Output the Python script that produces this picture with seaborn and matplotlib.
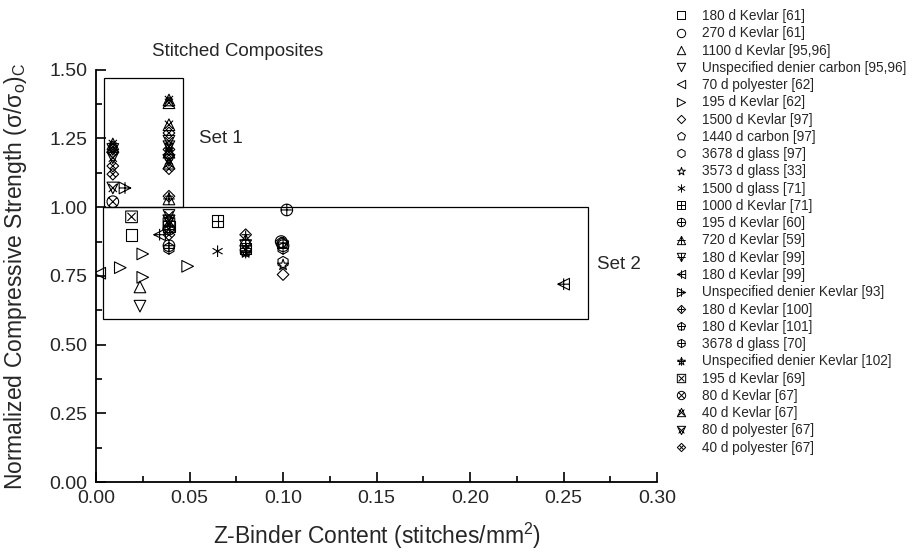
#importing libraries
import numpy as np
import pandas as pd
import matplotlib
matplotlib.use("Agg")
import matplotlib.pyplot as plt
import seaborn as sns
from matplotlib.markers import MarkerStyle
from matplotlib.path import Path
from matplotlib.patches import Rectangle
from matplotlib.lines import Line2D

sns.set_style("ticks")
plt.rcParams['font.family'] = ['Liberation Sans', 'DejaVu Sans']

# series names (legend order)
labels = ["180 d Kevlar [61]", "270 d Kevlar [61]", "1100 d Kevlar [95,96]",
          "Unspecified denier carbon [95,96]", "70 d polyester [62]", "195 d Kevlar [62]",
          "1500 d Kevlar [97]", "1440 d carbon [97]", "3678 d glass [97]",
          "3573 d glass [33]", "1500 d glass [71]", "1000 d Kevlar [71]",
          "195 d Kevlar [60]", "720 d Kevlar [59]", "180 d Kevlar [99]",
          "180 d Kevlar [99] ", "Unspecified denier Kevlar [93]", "180 d Kevlar [100]",
          "180 d Kevlar [101]", "3678 d glass [70]", "Unspecified denier Kevlar [102]",
          "195 d Kevlar [69]", "80 d Kevlar [67]", "40 d Kevlar [67]",
          "80 d polyester [67]", "40 d polyester [67]"]

# z-binder content (stitches/mm2) for each series
x_vals = [
    [0.019],
    [0.099, 0.100],
    [0.0235],
    [0.0235],
    [0.002],
    [0.013, 0.025, 0.025, 0.049],
    [0.100],
    [0.099],
    [0.100],
    [0.100],
    [0.065],
    [0.065, 0.080, 0.039],
    [0.102, 0.039],
    [0.080, 0.039],
    [0.080, 0.039],
    [0.250, 0.034],
    [0.0155],
    [0.080, 0.039],
    [0.100, 0.080],
    [0.039, 0.100],
    [0.080],
    [0.019, 0.039],
    [0.009, 0.039],
    [0.009, 0.009, 0.039, 0.039, 0.039, 0.039, 0.039],
    [0.009, 0.009, 0.009, 0.039, 0.039, 0.039, 0.039, 0.039],
    [0.009, 0.009, 0.009, 0.039, 0.039, 0.039, 0.039, 0.039, 0.039],
]

# normalized compressive strength for each series
y_vals = [
    [0.90],
    [0.875, 0.86],
    [0.71],
    [0.64],
    [0.76],
    [0.78, 0.83, 0.745, 0.785],
    [0.755],
    [0.87],
    [0.80],
    [0.79],
    [0.84],
    [0.95, 0.85, 0.93],
    [0.99, 0.86],
    [0.88, 1.03],
    [0.86, 0.95],
    [0.72, 0.90],
    [1.07],
    [0.90, 1.04],
    [0.87, 0.84],
    [0.85, 0.85],
    [0.835],
    [0.965, 0.94],
    [1.02, 0.92],
    [1.23, 1.22, 1.39, 1.38, 1.30, 1.20, 1.16],
    [1.21, 1.18, 1.07, 1.22, 1.17, 1.24, 0.97, 0.95],
    [1.20, 1.15, 1.12, 1.27, 1.19, 1.14, 1.21, 0.92, 0.90],
]


def base(m):
    ms = MarkerStyle(m)
    return ms.get_path().transformed(ms.get_transform())


plus = Path([[-0.5, 0], [0.5, 0], [0, -0.5], [0, 0.5]],
            [Path.MOVETO, Path.LINETO, Path.MOVETO, Path.LINETO])
cross = Path([[-0.35, -0.35], [0.35, 0.35], [-0.35, 0.35], [0.35, -0.35]],
             [Path.MOVETO, Path.LINETO, Path.MOVETO, Path.LINETO])
ang = np.deg2rad([90, 30, 150])
aster = Path([[f * 0.5 * np.cos(a), f * 0.5 * np.sin(a)] for a in ang for f in (-1, 1)],
             [Path.MOVETO, Path.LINETO] * 3)


def combo(m, extra):
    return Path.make_compound_path(base(m), extra)


markers = [base('s'), base('o'), base('^'), base('v'), base('<'), base('>'),
           base('D'), base('p'), base('h'), base('*'), aster,
           combo('s', plus), combo('o', plus), combo('^', plus), combo('v', plus),
           combo('<', plus), combo('>', plus), combo('D', plus), combo('p', plus),
           combo('h', plus), combo('*', plus), combo('s', cross), combo('o', cross),
           combo('^', cross), combo('v', cross), combo('D', cross)]

fig = plt.figure(figsize=(9.23, 5.58), dpi=100)
ax = fig.add_axes([0.104, 0.136, 0.608, 0.739])

handles = []
for name, xs, ys, mk in zip(labels, x_vals, y_vals, markers):
    df = pd.DataFrame({"x": xs, "y": ys})
    sns.scatterplot(data=df, x="x", y="y", marker=mk, s=70, color="k",
                    facecolor="none", edgecolor="k", linewidth=0.8, ax=ax, legend=False)
    handles.append(Line2D([], [], ls="", marker=mk, markersize=6, mfc="none",
                          mec="k", mew=0.7, label=name.strip()))

# set boxes
ax.add_patch(Rectangle((0.0043, 1.00), 0.0422, 0.469, fill=False, ec="k", lw=0.9))
ax.add_patch(Rectangle((0.0037, 0.595), 0.2593, 0.405, fill=False, ec="k", lw=0.9))
ax.text(0.055, 1.25, "Set 1", fontsize=13.5, va="center")
ax.text(0.268, 0.79, "Set 2", fontsize=13.5, va="center")
ax.text(0.03, 1.565, "Stitched Composites", fontsize=13.5, va="center", clip_on=False)

ax.set_xlim(0, 0.30)
ax.set_ylim(0, 1.50)
ax.set_xticks(np.arange(0, 0.301, 0.05))
ax.set_yticks(np.arange(0, 1.51, 0.25))
ax.set_xticks(np.arange(0.025, 0.3, 0.05), minor=True)
ax.set_yticks(np.arange(0.125, 1.5, 0.25), minor=True)
ax.set_xticklabels([f"{v:.2f}" for v in np.arange(0, 0.301, 0.05)])
ax.set_yticklabels([f"{v:.2f}" for v in np.arange(0, 1.51, 0.25)])
ax.tick_params(which="major", direction="in", length=7, width=1.2, labelsize=14,
               pad=6, color="k")
ax.tick_params(which="minor", direction="in", length=4, width=1.2, color="k")
sns.despine(ax=ax)
for s in ["left", "bottom"]:
    ax.spines[s].set_linewidth(1.3)
    ax.spines[s].set_color("k")

ax.set_xlabel("Z-Binder Content (stitches/mm$^\\mathregular{2}$)", fontsize=16.5)
ax.set_ylabel("Normalized Compressive Strength (σ/σ$_\\mathregular{o}$)$_\\mathregular{C}$",
              fontsize=16.5)
ax.xaxis.set_label_coords(0.5, -0.095)
ax.yaxis.set_label_coords(-0.12, 0.5)

fig.legend(handles=handles, loc="upper left", bbox_to_anchor=(673 / 923, 1 - 9 / 558),
           frameon=False, fontsize=9.8, labelspacing=0.24, handlelength=1.15,
           handletextpad=1.0, borderpad=0, borderaxespad=0)

fig.savefig("out.png", dpi=100)
